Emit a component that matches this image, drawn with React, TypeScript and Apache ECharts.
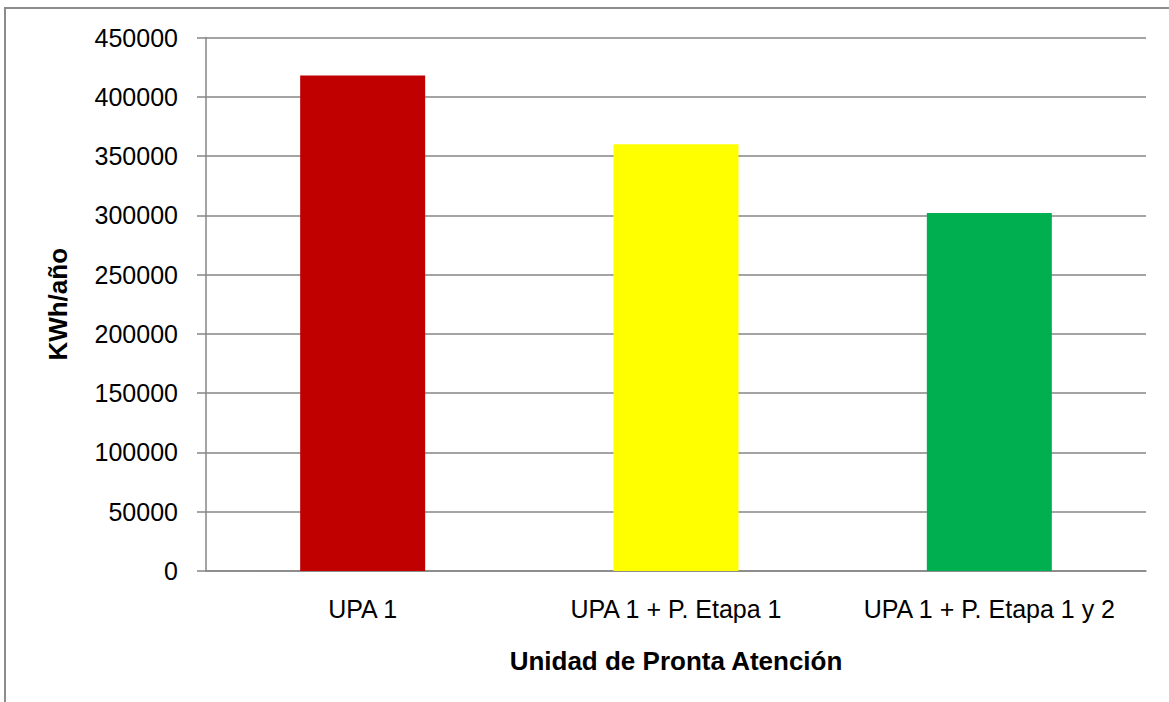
import React, { useEffect, useRef } from "react";
import * as echarts from "echarts";

const categories = ["UPA 1", "UPA 1 + P. Etapa 1", "UPA 1 + P. Etapa 1 y 2"];
const values = [418000, 360000, 302000];
const barColors = ["#C00000", "#FFFF00", "#00B050"];
const yTitle = "KWh/año";
const xTitle = "Unidad de Pronta Atención";

export default function App() {
  const ref = useRef<HTMLDivElement>(null);
  useEffect(() => {
    if (!ref.current) return;
    const chart = echarts.init(ref.current, null, { renderer: "svg" });
    const font = "'Liberation Sans', Arial, sans-serif";
    chart.setOption({
      animation: false,
      backgroundColor: "#ffffff",
      textStyle: { fontFamily: font },
      graphic: [
        {
          type: "rect",
          shape: { x: 5, y: 8, width: 1300, height: 900 },
          style: { fill: "none", stroke: "#8c8c8c", lineWidth: 2 },
          silent: true,
          z: 0,
        },
      ],
      grid: { left: 206, right: 23, top: 37.5, bottom: 131 },
      xAxis: {
        type: "category",
        data: categories,
        name: xTitle,
        nameLocation: "middle",
        nameGap: 77,
        nameTextStyle: { fontSize: 26, fontWeight: "bold", color: "#000", fontFamily: font },
        axisLine: { show: true, lineStyle: { color: "#868686", width: 1.5 } },
        axisTick: { show: false },
        axisLabel: { fontSize: 25, color: "#000", margin: 25, fontFamily: font, interval: 0 },
      },
      yAxis: {
        type: "value",
        min: 0,
        max: 450000,
        interval: 50000,
        name: yTitle,
        nameLocation: "middle",
        nameGap: 135,
        nameRotate: 90,
        nameTextStyle: { fontSize: 26, fontWeight: "bold", color: "#000", fontFamily: font },
        axisLine: { show: true, lineStyle: { color: "#868686", width: 1.5 } },
        axisTick: { show: true, length: 9, lineStyle: { color: "#868686", width: 1.5 } },
        axisLabel: {
          fontSize: 25,
          color: "#000",
          margin: 28,
          fontFamily: font,
          formatter: (v: number) => String(v),
        },
        splitLine: { show: true, lineStyle: { color: "#868686", width: 1.5 } },
      },
      series: [
        {
          type: "bar",
          barWidth: 125,
          data: values.map((v, i) => ({ value: v, itemStyle: { color: barColors[i] } })),
        },
      ],
    });
    return () => chart.dispose();
  }, []);
  return (
    <div
      ref={ref}
      style={{ position: "fixed", left: 0, top: 0, width: 1169, height: 702 }}
    />
  );
}
